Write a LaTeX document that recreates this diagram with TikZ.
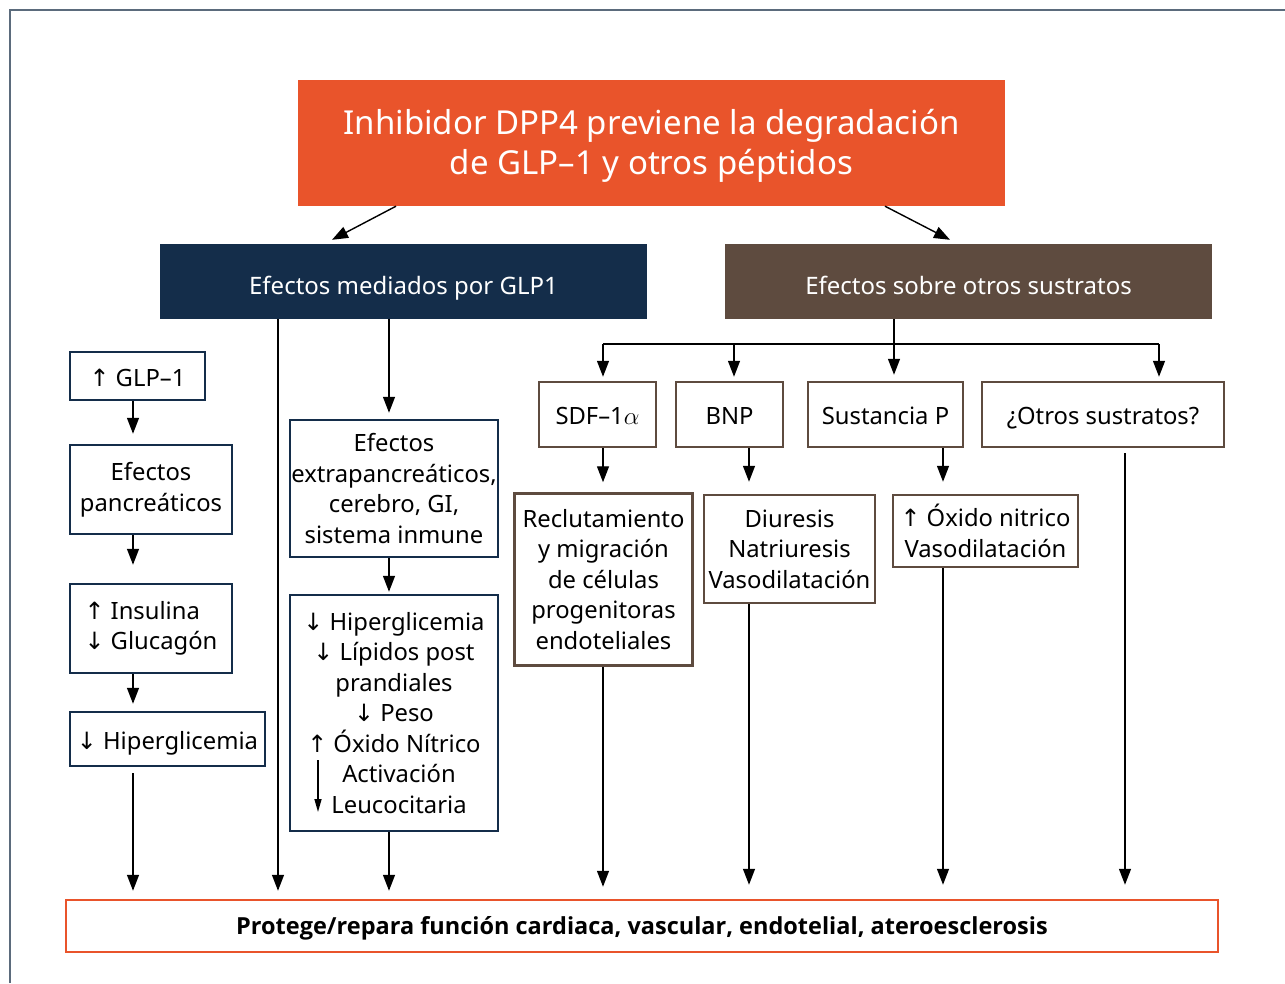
\documentclass[tikz,border=0pt]{standalone}
\usepackage{fontspec}
\setmainfont{Noto Sans}
\newfontfamily\arrowfont{DejaVu Sans}
\newfontfamily\boldsans{Open Sans}
\usetikzlibrary{arrows.meta,calc}
\definecolor{dppOrange}{HTML}{E9542B}
\definecolor{dppNavy}{HTML}{142D4A}
\definecolor{dppBrown}{HTML}{5E4B3F}
\definecolor{dppFrame}{HTML}{5B6B7C}
\newcommand{\upar}{{\arrowfont\char"2191}}
\newcommand{\dnar}{{\arrowfont\char"2193}}
\newcommand{\bodyfont}{\fontsize{23.8}{30.5}\selectfont}
\tikzset{
  box/.style={draw, line width=2.5pt, fill=white, inner sep=0pt, align=center, font=\bodyfont, text=black},
  onebox/.style={draw, line width=2.5pt, fill=white, inner sep=0pt, font=\bodyfont, text=black, text height=24pt, text depth=4pt},
  navybox/.style={box, draw=dppNavy},
  brownbox/.style={box, draw=dppBrown},
  navyone/.style={onebox, draw=dppNavy},
  brownone/.style={onebox, draw=dppBrown},
  headbox/.style={inner sep=0pt, text=white, font=\fontsize{24}{30}\selectfont, text height=29pt, text depth=4pt},
  arr/.style={line width=1.4pt, draw=black, -{Triangle[length=16pt,width=12pt]}},
  plainline/.style={line width=1.4pt, draw=black}
}
\begin{document}
\begin{tikzpicture}[x=1pt,y=-1pt]
\useasboundingbox (0,0) rectangle (1285,983);
\fill[white] (0,0) rectangle (1285,983);
% frame
\draw[dppFrame, line width=2pt] (10,983) -- (10,10) -- (1285,10);

% top
\node[inner sep=0pt, text=white, align=center, fill=dppOrange, minimum width=707pt, minimum height=126pt, font=\fontsize{33}{40}\selectfont] (top) at (651.5,143)
  {\rule{0pt}{30pt}Inhibidor DPP4 previene la degradación\\de GLP–1 y otros péptidos};
\node[headbox, fill=dppNavy, minimum width=487pt, minimum height=75pt] (navy) at (403.5,281.5) {Efectos mediados por GLP1};
\node[headbox, fill=dppBrown, minimum width=487pt, minimum height=75pt] (brown) at (968.5,281.5) {Efectos sobre otros sustratos};

% left column
\node[navyone, minimum width=135pt, minimum height=48pt] (glp) at (137.5,376) {\upar\ GLP–1};
\node[navybox, minimum width=162pt, minimum height=89pt] (panc) at (151,489.5) {Efectos\\pancreáticos};
\node[navybox, minimum width=162pt, minimum height=89pt, align=left] (insul) at (151,628.5) {\upar\ Insulina\\\dnar\ Glucagón};
\node[navyone, minimum width=195pt, minimum height=54pt] (hiper) at (167.5,739) {\dnar\ Hiperglicemia};

% middle column
\node[navybox, minimum width=208pt, minimum height=137pt] (extra) at (394,488.5) {Efectos\\extrapancreáticos,\\cerebro, GI,\\sistema inmune};
\node[navybox, minimum width=208pt, minimum height=236pt] (big) at (394,713)
  {\dnar\ Hiperglicemia\\\dnar\ Lípidos post\\prandiales\\\dnar\ Peso\\\upar\ Óxido Nítrico\\\hspace*{10pt}Activación\\\hspace*{10pt}Leucocitaria};
\draw[line width=1.5pt, -{Triangle[length=13pt,width=7pt]}] ($(big.center)+(-76,47)$) -- ($(big.center)+(-76,99)$);

% right side
\node[brownone, minimum width=117pt, minimum height=65pt] (sdf) at (597.5,414.5) {SDF–1$\alpha$};
\node[brownone, minimum width=107pt, minimum height=65pt] (bnp) at (729.5,414.5) {BNP};
\node[brownone, minimum width=155pt, minimum height=65pt] (sus) at (885.5,414.5) {Sustancia P};
\node[brownone, minimum width=242pt, minimum height=65pt] (otros) at (1103,414.5) {¿Otros sustratos?};
\node[brownbox, minimum width=178pt, minimum height=172pt] (recl) at (603.5,579.5) {Reclutamiento\\y migración\\de células\\progenitoras\\endoteliales};
\node[brownbox, minimum width=171pt, minimum height=108pt] (diur) at (789.5,549) {Diuresis\\Natriuresis\\Vasodilatación};
\node[brownbox, minimum width=185pt, minimum height=72pt] (oxido) at (985.5,531) {\upar\ Óxido nitrico\\Vasodilatación};

% bottom
\node[draw=dppOrange, line width=2.5pt, fill=white, inner sep=0pt, minimum width=1152pt, minimum height=52pt,
  font=\boldsans\bfseries\fontsize{23.5}{28}\selectfont, text height=22pt, text depth=5pt] (bottom) at (642,926)
  {Protege/repara función cardiaca, vascular, endotelial, ateroesclerosis};

% column coordinates
\coordinate (cA) at (133,0);
\coordinate (cB) at (278,0);
\coordinate (cC) at (389,0);
\coordinate (cD) at (603,0);
\coordinate (cE) at (749,0);
\coordinate (cF) at (943,0);
\coordinate (cG) at (1125,0);
\coordinate (cS) at (894,0);
\coordinate (h1) at (603,344);
\coordinate (h2) at (734,344);
\coordinate (h4) at (1159,344);

% connectors top
\draw[arr] ([xshift=-255.5pt]top.south) -- ([xshift=-71.5pt,yshift=4pt]navy.north);
\draw[arr] ([xshift=233.5pt]top.south) -- ([xshift=-18.5pt,yshift=4pt]brown.north);

% left chain
\draw[arr, shorten >=10pt] (glp.south -| cA) -- (panc.north -| cA);
\draw[arr, shorten >=18pt] (panc.south -| cA) -- (insul.north -| cA);
\draw[arr, shorten >=7pt] (insul.south -| cA) -- (hiper.north -| cA);
\draw[arr, shorten <=6pt, shorten >=8pt] (hiper.south -| cA) -- (bottom.north -| cA);

% navy branches
\draw[arr, shorten >=8pt] (navy.south -| cB) -- (bottom.north -| cB);
\draw[arr, shorten >=6pt] (navy.south -| cC) -- (extra.north -| cC);
\draw[arr, shorten >=2pt] (extra.south -| cC) -- (big.north -| cC);
\draw[arr, shorten >=8pt] (big.south -| cC) -- (bottom.north -| cC);

% brown branches
\draw[plainline] (h1) -- (h4);
\draw[arr, shorten >=6pt] (brown.south -| cS) -- (sus.north -| cS);
\draw[arr, shorten >=4pt] (h1) -- (sdf.north -| h1);
\draw[arr, shorten >=4pt] (h2) -- (bnp.north -| h2);
\draw[arr, shorten >=4pt] (h4) -- (otros.north -| h4);

\draw[arr, shorten >=10pt] (sdf.south -| cD) -- (recl.north -| cD);
\draw[arr, shorten >=12pt] (bnp.south -| cE) -- (diur.north -| cE);
\draw[arr, shorten >=12pt] (sus.south -| cF) -- (oxido.north -| cF);

\draw[arr, shorten >=12pt] (recl.south -| cD) -- (bottom.north -| cD);
\draw[arr, shorten >=14pt] (diur.south -| cE) -- (bottom.north -| cE);
\draw[arr, shorten >=14pt] (oxido.south -| cF) -- (bottom.north -| cF);
\draw[arr, shorten <=5pt, shorten >=14pt] (otros.south -| cG) -- (bottom.north -| cG);
\end{tikzpicture}
\end{document}
